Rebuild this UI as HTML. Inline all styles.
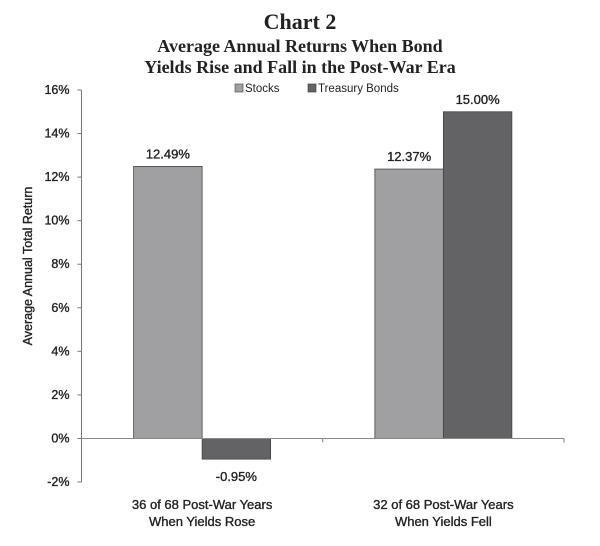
<!DOCTYPE html>
<html><head><meta charset="utf-8"><style>
body{margin:0;background:#fff;width:600px;height:541px;overflow:hidden}
svg text{font-family:"Liberation Sans",sans-serif;fill:#222}
.hv{stroke:#222;stroke-width:0.35}
</style></head><body>
<svg width="600" height="541">
<text x="300" y="29" text-anchor="middle" style="font-family:'Liberation Serif',serif;font-weight:bold;font-size:22px">Chart 2</text>
<text x="300" y="52" text-anchor="middle" style="font-family:'Liberation Serif',serif;font-weight:bold;font-size:18px">Average Annual Returns When Bond</text>
<text x="300" y="73" text-anchor="middle" style="font-family:'Liberation Serif',serif;font-weight:bold;font-size:18px">Yields Rise and Fall in the Post-War Era</text>
<g>
<rect x="235" y="84" width="8" height="8" fill="#a0a0a2" stroke="#555" stroke-width="0.7"/>
<text x="245" y="92" font-size="11.5">Stocks</text>
<rect x="308" y="84" width="8" height="8" fill="#636366" stroke="#444" stroke-width="0.7"/>
<text x="318" y="92" font-size="11.5">Treasury Bonds</text>
</g>
<text class="hv" transform="translate(32,266) rotate(-90)" text-anchor="middle" font-size="12.5">Average Annual Total Return</text>
<g id="plot"></g>
</svg>
<script>
const categories=["36 of 68 Post-War Years|When Yields Rose","32 of 68 Post-War Years|When Yields Fell"];
const stocks=[12.49,12.37];
const bonds=[-0.95,15.00];
const yTicks=[-2,0,2,4,6,8,10,12,14,16];
const NS="http://www.w3.org/2000/svg";
const g=document.getElementById('plot');
const x0=81.5,x1=564,yTop=90,yBot=482,vMin=-2,vMax=16;
const y=v=>yBot-(v-vMin)/(vMax-vMin)*(yBot-yTop);
const gw=(x1-x0)/categories.length,bw=68.5;
function mk(t,a,parent){const e=document.createElementNS(NS,t);for(const k in a)e.setAttribute(k,a[k]);(parent||g).appendChild(e);return e;}
yTicks.forEach(t=>{
 const tx=mk('text',{x:x0-12,y:y(t)+4,'text-anchor':'end','font-size':'12.5','class':'hv'});
 tx.textContent=t+'%';
 
 
 const tk=mk('line',{x1:x0-4,x2:x0,y1:y(t),y2:y(t),stroke:'#777'});
 
 
});
categories.forEach((c,i)=>{
 const cx=x0+gw*(i+0.5);
 [[stocks[i],'#a0a0a2','stocks',-bw],[bonds[i],'#636366','bonds',0]].forEach(([v,col,nm,off])=>{
  const top=Math.min(y(v),y(0)),h=Math.abs(y(v)-y(0));
  const r=mk('rect',{x:cx+off,y:top,width:bw,height:h,fill:col,stroke:'#444','stroke-width':'0.8'});
  
  
  const ly=v>=0?y(v)-8:y(v)+22;
  const l=mk('text',{x:cx+off+bw/2,y:ly,'text-anchor':'middle','font-size':'13','class':'hv'});
  l.textContent=v.toFixed(2)+'%';
  
  
 });
 c.split('|').forEach((ln,j)=>{
  const t=mk('text',{x:cx,y:509+j*17,'text-anchor':'middle','font-size':'13','class':'hv'});
  t.textContent=ln;
  
  
 });
 const tk=mk('line',{x1:x0+gw*(i+1),x2:x0+gw*(i+1),y1:y(0),y2:y(0)+4,stroke:'#777'});
 
 
});
const ya=mk('line',{x1:x0,x2:x0,y1:yTop,y2:yBot,stroke:'#777'});


const xa=mk('line',{x1:x0,x2:x1,y1:y(0),y2:y(0),stroke:'#888'});


</script>
</body></html>
